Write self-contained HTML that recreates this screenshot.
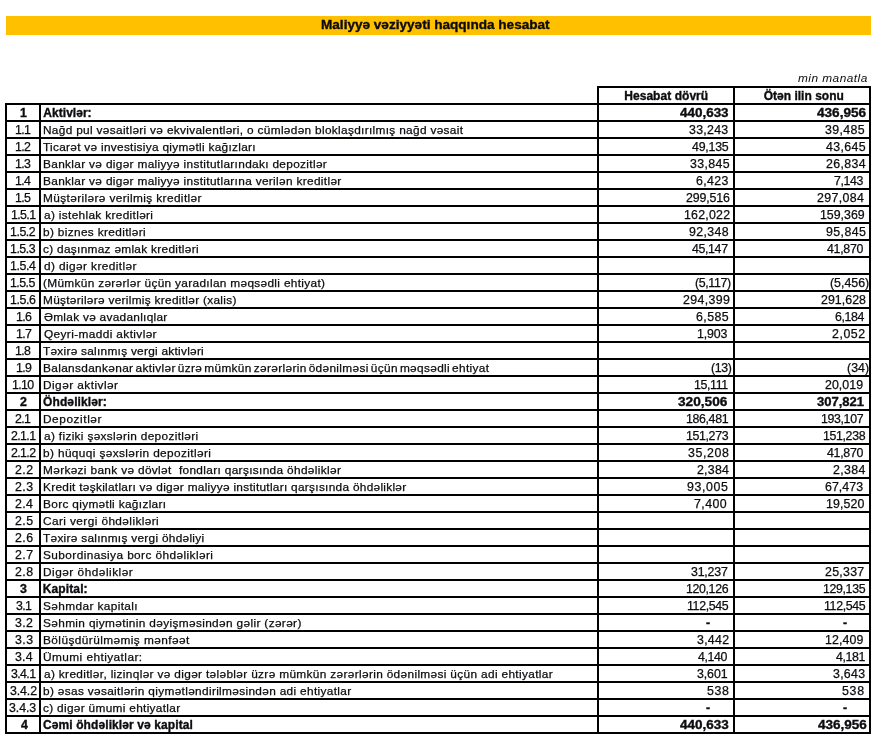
<!DOCTYPE html>
<html lang="az">
<head>
<meta charset="utf-8">
<title>Maliyyə vəziyyəti haqqında hesabat</title>
<style>
html,body{margin:0;padding:0;background:#fff;}
body{width:877px;height:745px;position:relative;overflow:hidden;font-family:"Liberation Sans",Arial,sans-serif;font-size:11.5px;color:#0c0c10;}
.page{position:absolute;left:0;top:0;width:877px;height:745px;will-change:transform;}
.bar{position:absolute;left:6px;top:16px;width:865px;height:19px;background:#ffc000;}
.h{position:absolute;height:2px;background:#000;}
.v{position:absolute;width:2px;background:#000;}
.t{position:absolute;white-space:pre;height:15px;line-height:15px;transform-origin:0 50%;transform:scaleX(1.03);-webkit-text-stroke:0.25px #0c0c10;}
.b{font-weight:bold;font-size:12px;-webkit-text-stroke-width:0.35px;}
.i{font-style:italic;-webkit-text-stroke-width:0;}
.d{font-size:12px;}
</style>
</head>
<body>
<div class="page">
<div class="bar"></div>
<div class="t b" id="title" style="left:321.11px;top:18px;font-size:12.5px;transform:scaleX(1.086);">Maliyyə vəziyyəti haqqında hesabat</div>
<div class="t i" id="unit" style="left:797.72px;top:71px;letter-spacing:0.46px;">min manatla</div>
<div class="h" style="left:597px;top:86px;width:274px;"></div>
<div class="v" style="left:597px;top:86px;height:19px;"></div>
<div class="v" style="left:733px;top:86px;height:19px;"></div>
<div class="v" style="left:869px;top:86px;height:19px;"></div>
<div class="t b" id="h1" style="left:624.23px;top:89px;letter-spacing:0.05px;transform:scaleX(1);">Hesabat dövrü</div>
<div class="t b" id="h2" style="left:763.64px;top:89px;letter-spacing:0.02px;transform:scaleX(1);">Ötən ilin sonu</div>
<div class="h" style="left:5px;top:103px;width:866px;"></div>
<div class="h" style="left:5px;top:120px;width:866px;"></div>
<div class="h" style="left:5px;top:137px;width:866px;"></div>
<div class="h" style="left:5px;top:154px;width:866px;"></div>
<div class="h" style="left:5px;top:171px;width:866px;"></div>
<div class="h" style="left:5px;top:188px;width:866px;"></div>
<div class="h" style="left:5px;top:205px;width:866px;"></div>
<div class="h" style="left:5px;top:222px;width:866px;"></div>
<div class="h" style="left:5px;top:239px;width:866px;"></div>
<div class="h" style="left:5px;top:256px;width:866px;"></div>
<div class="h" style="left:5px;top:273px;width:866px;"></div>
<div class="h" style="left:5px;top:290px;width:866px;"></div>
<div class="h" style="left:5px;top:307px;width:866px;"></div>
<div class="h" style="left:5px;top:324px;width:866px;"></div>
<div class="h" style="left:5px;top:341px;width:866px;"></div>
<div class="h" style="left:5px;top:358px;width:866px;"></div>
<div class="h" style="left:5px;top:375px;width:866px;"></div>
<div class="h" style="left:5px;top:392px;width:866px;"></div>
<div class="h" style="left:5px;top:409px;width:866px;"></div>
<div class="h" style="left:5px;top:426px;width:866px;"></div>
<div class="h" style="left:5px;top:443px;width:866px;"></div>
<div class="h" style="left:5px;top:460px;width:866px;"></div>
<div class="h" style="left:5px;top:477px;width:866px;"></div>
<div class="h" style="left:5px;top:494px;width:866px;"></div>
<div class="h" style="left:5px;top:511px;width:866px;"></div>
<div class="h" style="left:5px;top:528px;width:866px;"></div>
<div class="h" style="left:5px;top:545px;width:866px;"></div>
<div class="h" style="left:5px;top:562px;width:866px;"></div>
<div class="h" style="left:5px;top:579px;width:866px;"></div>
<div class="h" style="left:5px;top:596px;width:866px;"></div>
<div class="h" style="left:5px;top:613px;width:866px;"></div>
<div class="h" style="left:5px;top:630px;width:866px;"></div>
<div class="h" style="left:5px;top:647px;width:866px;"></div>
<div class="h" style="left:5px;top:664px;width:866px;"></div>
<div class="h" style="left:5px;top:681px;width:866px;"></div>
<div class="h" style="left:5px;top:698px;width:866px;"></div>
<div class="h" style="left:5px;top:715px;width:866px;"></div>
<div class="h" style="left:5px;top:732px;width:866px;"></div>
<div class="v" style="left:5px;top:103px;height:631px;"></div>
<div class="v" style="left:39px;top:103px;height:631px;"></div>
<div class="v" style="left:597px;top:103px;height:631px;"></div>
<div class="v" style="left:733px;top:103px;height:631px;"></div>
<div class="v" style="left:869px;top:103px;height:631px;"></div>
<div class="t b d" id="n0" style="left:20.04px;top:106px;">1</div>
<div class="t b" id="l0" style="left:43.37px;top:106px;letter-spacing:0.03px;transform:scaleX(1);">Aktivlər:</div>
<div class="t b d" id="v0_0" style="left:680.24px;top:106px;transform:scaleX(1.1204);">440,633</div>
<div class="t b d" id="v0_1" style="left:817.14px;top:106px;transform:scaleX(1.133);">436,956</div>
<div class="t d" id="n1" style="left:15.01px;top:123px;letter-spacing:-0.6px;">1.1</div>
<div class="t" id="l1" style="left:43.02px;top:123px;letter-spacing:0.31px;">Nağd pul vəsaitləri və ekvivalentləri, o cümlədən bloklaşdırılmış nağd vəsait</div>
<div class="t d" id="v1_0" style="left:689.45px;top:123px;letter-spacing:0.27px;">33,243</div>
<div class="t d" id="v1_1" style="left:824.98px;top:123px;letter-spacing:0.37px;">39,485</div>
<div class="t d" id="n2" style="left:15.09px;top:140px;letter-spacing:-0.6px;">1.2</div>
<div class="t" id="l2" style="left:43.24px;top:140px;letter-spacing:0.28px;">Ticarət və investisiya qiymətli kağızları</div>
<div class="t d" id="v2_0" style="left:691.84px;top:140px;letter-spacing:-0.21px;">49,135</div>
<div class="t d" id="v2_1" style="left:826.39px;top:140px;letter-spacing:0.34px;">43,645</div>
<div class="t d" id="n3" style="left:15.36px;top:157px;letter-spacing:-0.6px;">1.3</div>
<div class="t" id="l3" style="left:43.02px;top:157px;letter-spacing:0.32px;">Banklar və digər maliyyə institutlarındakı depozitlər</div>
<div class="t d" id="v3_0" style="left:689.87px;top:157px;letter-spacing:0.35px;">33,845</div>
<div class="t d" id="v3_1" style="left:825.76px;top:157px;letter-spacing:0.36px;">26,834</div>
<div class="t d" id="n4" style="left:15.11px;top:174px;letter-spacing:-0.6px;">1.4</div>
<div class="t" id="l4" style="left:43.02px;top:174px;letter-spacing:0.32px;">Banklar və digər maliyyə institutlarına verilən kreditlər</div>
<div class="t d" id="v4_0" style="left:696.34px;top:174px;letter-spacing:0.34px;">6,423</div>
<div class="t d" id="v4_1" style="left:834.19px;top:174px;letter-spacing:-0.35px;">7,143</div>
<div class="t d" id="n5" style="left:15.18px;top:191px;letter-spacing:-0.6px;">1.5</div>
<div class="t" id="l5" style="left:43.02px;top:191px;letter-spacing:0.37px;">Müştərilərə verilmiş kreditlər</div>
<div class="t d" id="v5_0" style="left:685.5px;top:191px;letter-spacing:-0.11px;">299,516</div>
<div class="t d" id="v5_1" style="left:817.47px;top:191px;letter-spacing:0.34px;">297,084</div>
<div class="t d" id="n6" style="left:10.56px;top:208px;letter-spacing:-0.6px;">1.5.1</div>
<div class="t" id="l6" style="left:43.6px;top:208px;letter-spacing:0.32px;">a) istehlak kreditləri</div>
<div class="t d" id="v6_0" style="left:683.86px;top:208px;letter-spacing:0.22px;">162,022</div>
<div class="t d" id="v6_1" style="left:820.16px;top:208px;">159,369</div>
<div class="t d" id="n7" style="left:10.3px;top:225px;letter-spacing:-0.43px;">1.5.2</div>
<div class="t" id="l7" style="left:43.44px;top:225px;letter-spacing:0.33px;">b) biznes kreditləri</div>
<div class="t d" id="v7_0" style="left:689.37px;top:225px;letter-spacing:0.37px;">92,348</div>
<div class="t d" id="v7_1" style="left:825.6px;top:225px;letter-spacing:0.41px;">95,845</div>
<div class="t d" id="n8" style="left:10.22px;top:242px;letter-spacing:-0.46px;">1.5.3</div>
<div class="t" id="l8" style="left:43.42px;top:242px;letter-spacing:0.29px;">c) daşınmaz əmlak kreditləri</div>
<div class="t d" id="v8_0" style="left:691.94px;top:242px;letter-spacing:-0.35px;">45,147</div>
<div class="t d" id="v8_1" style="left:826.79px;top:242px;letter-spacing:-0.28px;">41,870</div>
<div class="t d" id="n9" style="left:10.33px;top:259px;letter-spacing:-0.42px;">1.5.4</div>
<div class="t" id="l9" style="left:43.68px;top:259px;letter-spacing:0.39px;">d) digər kreditlər</div>
<div class="t d" id="n10" style="left:10.11px;top:276px;letter-spacing:-0.51px;">1.5.5</div>
<div class="t" id="l10" style="left:43.48px;top:276px;letter-spacing:0.31px;">(Mümkün zərərlər üçün yaradılan məqsədli ehtiyat)</div>
<div class="t d" id="v10_0" style="left:695.48px;top:276px;letter-spacing:-0.35px;">(5,117)</div>
<div class="t d" id="v10_1" style="left:829.74px;top:276px;letter-spacing:0px;">(5,456)</div>
<div class="t d" id="n11" style="left:10.3px;top:293px;letter-spacing:-0.41px;">1.5.6</div>
<div class="t" id="l11" style="left:43.02px;top:293px;letter-spacing:0.29px;">Müştərilərə verilmiş kreditlər (xalis)</div>
<div class="t d" id="v11_0" style="left:683.28px;top:293px;letter-spacing:0.35px;">294,399</div>
<div class="t d" id="v11_1" style="left:821.33px;top:293px;letter-spacing:0.05px;">291,628</div>
<div class="t d" id="n12" style="left:15.54px;top:310px;letter-spacing:-0.6px;">1.6</div>
<div class="t" id="l12" style="left:43.52px;top:310px;letter-spacing:0.28px;">Əmlak və avadanlıqlar</div>
<div class="t d" id="v12_0" style="left:695.61px;top:310px;letter-spacing:0.41px;">6,585</div>
<div class="t d" id="v12_1" style="left:835.38px;top:310px;letter-spacing:-0.35px;">6,184</div>
<div class="t d" id="n13" style="left:15.62px;top:327px;letter-spacing:-0.6px;">1.7</div>
<div class="t" id="l13" style="left:43.62px;top:327px;letter-spacing:0.37px;">Qeyri-maddi aktivlər</div>
<div class="t d" id="v13_0" style="left:696.84px;top:327px;letter-spacing:-0.11px;">1,903</div>
<div class="t d" id="v13_1" style="left:832.04px;top:327px;letter-spacing:0.52px;">2,052</div>
<div class="t d" id="n14" style="left:15.24px;top:344px;letter-spacing:-0.6px;">1.8</div>
<div class="t" id="l14" style="left:43.24px;top:344px;letter-spacing:0.26px;">Təxirə salınmış vergi aktivləri</div>
<div class="t d" id="n15" style="left:15.67px;top:361px;letter-spacing:-0.6px;">1.9</div>
<div class="t" id="l15" style="left:43.02px;top:361px;letter-spacing:0.33px;word-spacing:-1.5px;">Balansdankənar aktivlər üzrə mümkün zərərlərin ödənilməsi üçün məqsədli ehtiyat</div>
<div class="t d" id="v15_0" style="left:710.66px;top:361px;letter-spacing:-0.35px;">(13)</div>
<div class="t d" id="v15_1" style="left:846.85px;top:361px;letter-spacing:0.04px;">(34)</div>
<div class="t d" id="n16" style="left:12.2px;top:378px;letter-spacing:-0.6px;">1.10</div>
<div class="t" id="l16" style="left:43.02px;top:378px;letter-spacing:0.44px;">Digər aktivlər</div>
<div class="t d" id="v16_0" style="left:694.35px;top:378px;letter-spacing:-0.35px;">15,111</div>
<div class="t d" id="v16_1" style="left:825.44px;top:378px;letter-spacing:0.04px;">20,019</div>
<div class="t b d" id="n17" style="left:20.48px;top:395px;">2</div>
<div class="t b" id="l17" style="left:42.99px;top:395px;letter-spacing:0.12px;transform:scaleX(1);">Öhdəliklər:</div>
<div class="t b d" id="v17_0" style="left:678.33px;top:395px;transform:scaleX(1.1379);">320,506</div>
<div class="t b d" id="v17_1" style="left:817.03px;top:395px;transform:scaleX(1.0855);">307,821</div>
<div class="t d" id="n18" style="left:15.17px;top:412px;letter-spacing:-0.6px;">2.1</div>
<div class="t" id="l18" style="left:43.02px;top:412px;letter-spacing:0.55px;">Depozitlər</div>
<div class="t d" id="v18_0" style="left:686.27px;top:412px;letter-spacing:-0.35px;">186,481</div>
<div class="t d" id="v18_1" style="left:820.7px;top:412px;letter-spacing:-0.35px;">193,107</div>
<div class="t d" id="n19" style="left:11.47px;top:429px;letter-spacing:-0.6px;">2.1.1</div>
<div class="t" id="l19" style="left:43.6px;top:429px;letter-spacing:0.32px;">a) fiziki şəxslərin depozitləri</div>
<div class="t d" id="v19_0" style="left:685.94px;top:429px;letter-spacing:-0.35px;">151,273</div>
<div class="t d" id="v19_1" style="left:822.66px;top:429px;letter-spacing:-0.35px;">151,238</div>
<div class="t d" id="n20" style="left:10.54px;top:446px;letter-spacing:-0.6px;">2.1.2</div>
<div class="t" id="l20" style="left:43.44px;top:446px;letter-spacing:0.36px;">b) hüquqi şəxslərin depozitləri</div>
<div class="t d" id="v20_0" style="left:687.94px;top:446px;letter-spacing:0.58px;">35,208</div>
<div class="t d" id="v20_1" style="left:826.79px;top:446px;letter-spacing:-0.28px;">41,870</div>
<div class="t d" id="n21" style="left:15.08px;top:463px;letter-spacing:0.43px;">2.2</div>
<div class="t" id="l21" style="left:43.02px;top:463px;letter-spacing:0.33px;">Mərkəzi bank və dövlət  fondları qarşısında öhdəliklər</div>
<div class="t d" id="v21_0" style="left:696.97px;top:463px;letter-spacing:0.23px;">2,384</div>
<div class="t d" id="v21_1" style="left:833.2px;top:463px;letter-spacing:0.35px;">2,384</div>
<div class="t d" id="n22" style="left:15.06px;top:480px;letter-spacing:0.46px;">2.3</div>
<div class="t" id="l22" style="left:43.02px;top:480px;letter-spacing:0.28px;">Kredit təşkilatları və digər maliyyə institutları qarşısında öhdəliklər</div>
<div class="t d" id="v22_0" style="left:686.7px;top:480px;letter-spacing:0.62px;">93,005</div>
<div class="t d" id="v22_1" style="left:825.43px;top:480px;letter-spacing:0.06px;">67,473</div>
<div class="t d" id="n23" style="left:14.84px;top:497px;letter-spacing:0.28px;">2.4</div>
<div class="t" id="l23" style="left:43.02px;top:497px;letter-spacing:0.32px;">Borc qiymətli kağızları</div>
<div class="t d" id="v23_0" style="left:694.05px;top:497px;letter-spacing:0.4px;">7,400</div>
<div class="t d" id="v23_1" style="left:826.27px;top:497px;letter-spacing:0.1px;">19,520</div>
<div class="t d" id="n24" style="left:15px;top:514px;letter-spacing:0.43px;">2.5</div>
<div class="t" id="l24" style="left:43px;top:514px;letter-spacing:0.39px;">Cari vergi öhdəlikləri</div>
<div class="t d" id="n25" style="left:15.03px;top:531px;letter-spacing:0.4px;">2.6</div>
<div class="t" id="l25" style="left:43.24px;top:531px;letter-spacing:0.28px;">Təxirə salınmış vergi öhdəliyi</div>
<div class="t d" id="n26" style="left:15.06px;top:548px;letter-spacing:0.41px;">2.7</div>
<div class="t" id="l26" style="left:42.74px;top:548px;letter-spacing:0.4px;">Subordinasiya borc öhdəlikləri</div>
<div class="t d" id="n27" style="left:14.97px;top:565px;letter-spacing:0.4px;">2.8</div>
<div class="t" id="l27" style="left:43.02px;top:565px;letter-spacing:0.48px;">Digər öhdəliklər</div>
<div class="t d" id="v27_0" style="left:691.47px;top:565px;letter-spacing:-0.2px;">31,237</div>
<div class="t d" id="v27_1" style="left:825.11px;top:565px;letter-spacing:0.26px;">25,337</div>
<div class="t b d" id="n28" style="left:20.26px;top:582px;">3</div>
<div class="t b" id="l28" style="left:42.8px;top:582px;letter-spacing:0.11px;transform:scaleX(1);">Kapital:</div>
<div class="t d" id="v28_0" style="left:686.18px;top:582px;letter-spacing:-0.35px;">120,126</div>
<div class="t d" id="v28_1" style="left:822.81px;top:582px;letter-spacing:-0.35px;">129,135</div>
<div class="t d" id="n29" style="left:15.61px;top:599px;letter-spacing:-0.6px;">3.1</div>
<div class="t" id="l29" style="left:42.74px;top:599px;letter-spacing:0.37px;">Səhmdar kapitalı</div>
<div class="t d" id="v29_0" style="left:687.23px;top:599px;letter-spacing:-0.34px;">112,545</div>
<div class="t d" id="v29_1" style="left:823.73px;top:599px;letter-spacing:-0.34px;">112,545</div>
<div class="t d" id="n30" style="left:15.13px;top:616px;letter-spacing:0.39px;">3.2</div>
<div class="t" id="l30" style="left:42.74px;top:616px;letter-spacing:0.34px;">Səhmin qiymətinin dəyişməsindən gəlir (zərər)</div>
<div class="t b d" id="v30_0" style="left:705.96px;top:616px;">-</div>
<div class="t b d" id="v30_1" style="left:843.16px;top:616px;">-</div>
<div class="t d" id="n31" style="left:15.14px;top:633px;letter-spacing:0.41px;">3.3</div>
<div class="t" id="l31" style="left:43.02px;top:633px;letter-spacing:0.41px;">Bölüşdürülməmiş mənfəət</div>
<div class="t d" id="v31_0" style="left:697.4px;top:633px;letter-spacing:0.27px;">3,442</div>
<div class="t d" id="v31_1" style="left:825.38px;top:633px;letter-spacing:0.12px;">12,409</div>
<div class="t d" id="n32" style="left:14.94px;top:650px;letter-spacing:0.22px;">3.4</div>
<div class="t" id="l32" style="left:42.56px;top:650px;letter-spacing:0.42px;">Ümumi ehtiyatlar:</div>
<div class="t d" id="v32_0" style="left:697.92px;top:650px;letter-spacing:-0.35px;">4,140</div>
<div class="t d" id="v32_1" style="left:835.65px;top:650px;letter-spacing:-0.35px;">4,181</div>
<div class="t d" id="n33" style="left:10.65px;top:667px;letter-spacing:-0.6px;">3.4.1</div>
<div class="t" id="l33" style="left:43.6px;top:667px;letter-spacing:0.33px;">a) kreditlər, lizinqlər və digər tələblər üzrə mümkün zərərlərin ödənilməsi üçün adi ehtiyatlar</div>
<div class="t d" id="v33_0" style="left:697.14px;top:667px;letter-spacing:-0.09px;">3,601</div>
<div class="t d" id="v33_1" style="left:833.01px;top:667px;letter-spacing:0.27px;">3,643</div>
<div class="t d" id="n34" style="left:9.73px;top:684px;letter-spacing:-0.1px;">3.4.2</div>
<div class="t" id="l34" style="left:43.44px;top:684px;letter-spacing:0.32px;">b) əsas vəsaitlərin qiymətləndirilməsindən adi ehtiyatlar</div>
<div class="t d" id="v34_0" style="left:707.21px;top:684px;letter-spacing:0.6px;">538</div>
<div class="t d" id="v34_1" style="left:842.22px;top:684px;letter-spacing:0.7px;">538</div>
<div class="t d" id="n35" style="left:8.79px;top:701px;letter-spacing:-0.08px;">3.4.3</div>
<div class="t" id="l35" style="left:43.42px;top:701px;letter-spacing:0.3px;">c) digər ümumi ehtiyatlar</div>
<div class="t b d" id="v35_0" style="left:705.96px;top:701px;">-</div>
<div class="t b d" id="v35_1" style="left:843.16px;top:701px;">-</div>
<div class="t b d" id="n36" style="left:20.8px;top:718px;">4</div>
<div class="t b" id="l36" style="left:42.99px;top:718px;letter-spacing:0.1px;transform:scaleX(1);">Cəmi öhdəliklər və kapital</div>
<div class="t b d" id="v36_0" style="left:680.14px;top:718px;transform:scaleX(1.1211);">440,633</div>
<div class="t b d" id="v36_1" style="left:817.64px;top:718px;transform:scaleX(1.1261);">436,956</div>
</div>
</body>
</html>
